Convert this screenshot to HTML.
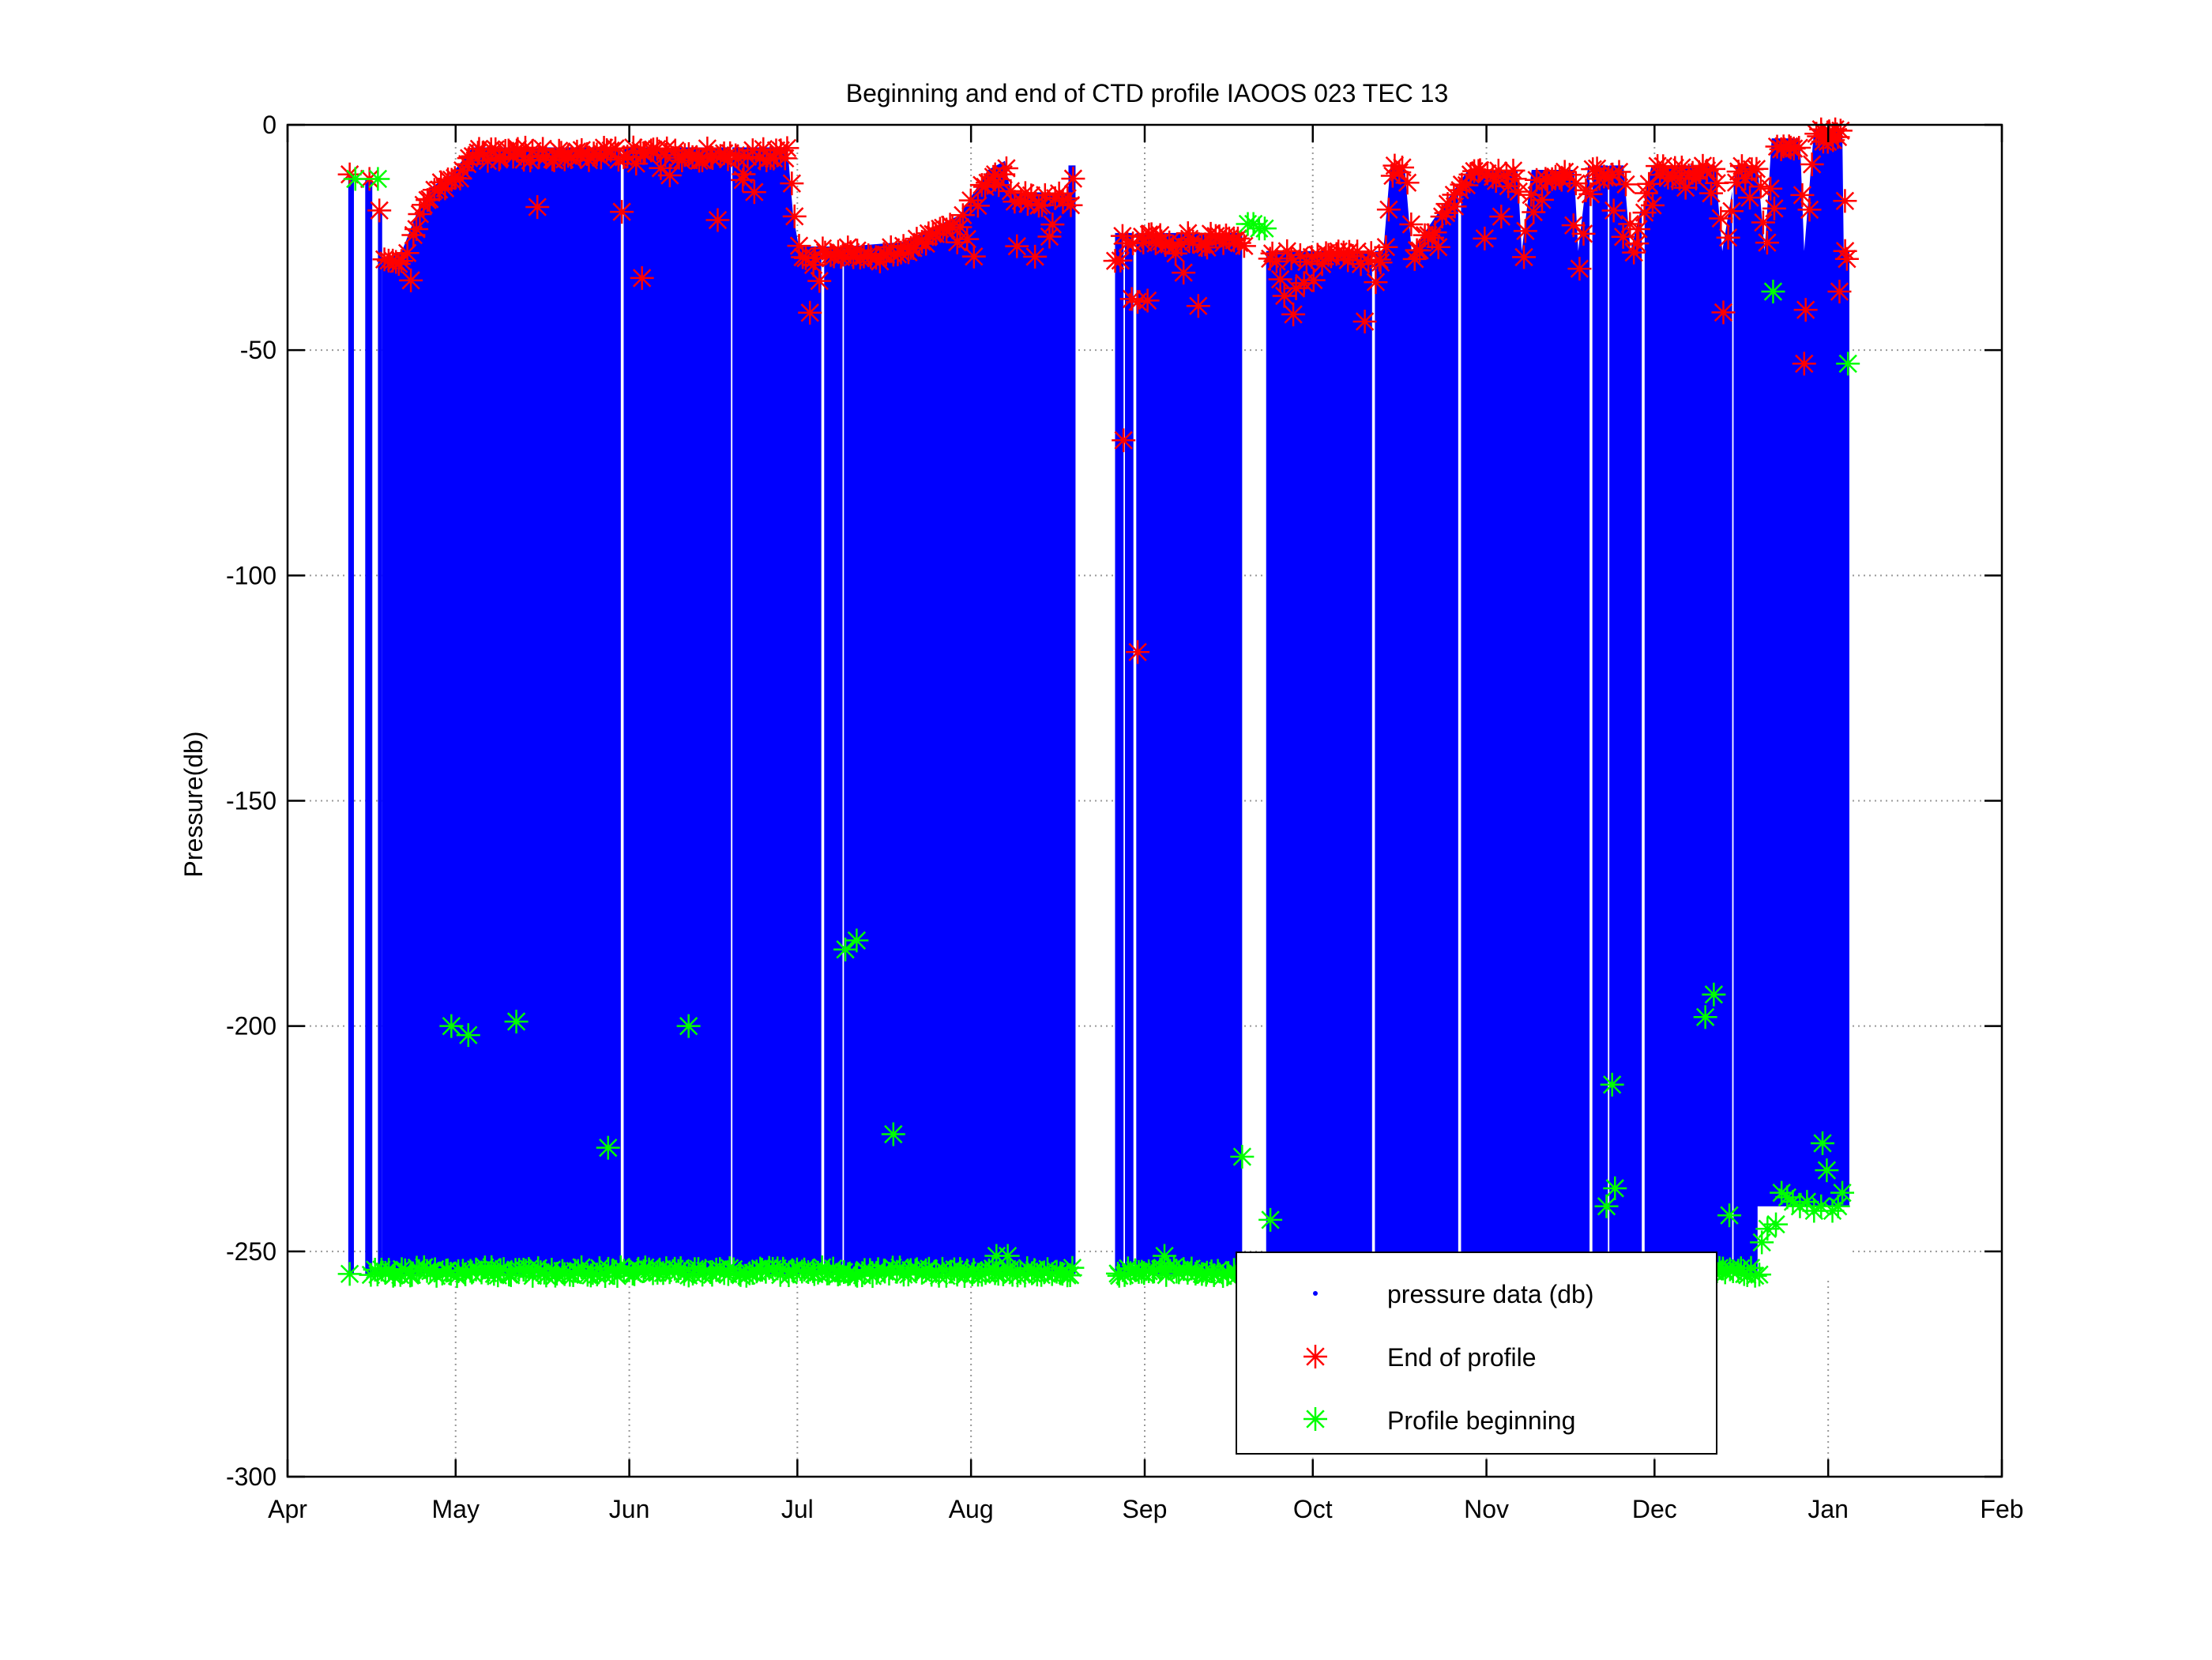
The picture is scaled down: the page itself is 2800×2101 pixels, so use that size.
<!DOCTYPE html>
<html><head><meta charset="utf-8"><style>
html,body{margin:0;padding:0;background:#fff;}
svg{display:block;font-family:"Liberation Sans",sans-serif;}
</style></head><body>
<svg id="s" width="2800" height="2101" viewBox="0 0 2800 2101" xmlns="http://www.w3.org/2000/svg">
<rect width="2800" height="2101" fill="#fff"/>
<g id="grid" stroke="#999" stroke-width="2" stroke-dasharray="2,5"></g>
<g id="blue"></g>
<g id="gaps" fill="#fff"></g>
<g id="red" stroke="#ff0000" stroke-width="2.5"></g>
<g id="green" stroke="#00ff00" stroke-width="2.5"></g>
<rect x="364" y="158" width="2170" height="1711" fill="none" stroke="#000" stroke-width="2.5"/>
<g id="ticks" stroke="#000" stroke-width="2.5"></g>
<g id="labels" font-size="32" fill="#000"></g>
<text x="1452" y="129" font-size="32" text-anchor="middle">Beginning and end of CTD profile IAOOS 023 TEC 13</text>
<text transform="translate(256,1018) rotate(-90)" font-size="32" text-anchor="middle">Pressure(db)</text>
<rect x="1565" y="1585" width="608" height="255" fill="#fff" stroke="#000" stroke-width="2"/>
<circle cx="1665" cy="1637" r="3" fill="#0000ff"/>
<g id="leg" stroke-width="2.5"></g>
<text x="1756" y="1649" font-size="32">pressure data (db)</text>
<text x="1756" y="1729" font-size="32">End of profile</text>
<text x="1756" y="1809" font-size="32">Profile beginning</text>
</svg>
<script>
var NS="http://www.w3.org/2000/svg";
function X(xd){return 364+(xd-204)*1.7875;}
function Y(p){return 158+(-p)*5.7033;}
function el(g,t,a){var e=document.createElementNS(NS,t);for(var k in a)e.setAttribute(k,a[k]);document.getElementById(g).appendChild(e);return e;}
var days=[0,30,61,91,122,153,183,214,244,275,306],mon=["Apr","May","Jun","Jul","Aug","Sep","Oct","Nov","Dec","Jan","Feb"];
days.forEach(function(d,i){var x=364+d*7.0915;
 if(i>0&&i<10)el("grid","line",{x1:x,y1:158,x2:x,y2:1869});
 el("ticks","line",{x1:x,y1:158,x2:x,y2:180});el("ticks","line",{x1:x,y1:1869,x2:x,y2:1847});
 var t=el("labels","text",{x:x,y:1921,"text-anchor":"middle"});t.textContent=mon[i];});
for(var i=0;i<=6;i++){var p=-50*i,y=Y(p);
 if(i>0&&i<6)el("grid","line",{x1:364,y1:y,x2:2534,y2:y});
 el("ticks","line",{x1:364,y1:y,x2:386,y2:y});el("ticks","line",{x1:2534,y1:y,x2:2512,y2:y});
 var t=el("labels","text",{x:350,y:y+11,"text-anchor":"end"});t.textContent=p;}
function poly(pts,bot){var s=pts.map(function(q){return X(q[0])+","+Y(q[1]);});
 s.push(X(pts[pts.length-1][0])+","+Y(bot));s.push(X(pts[0][0])+","+Y(bot));
 el("blue","polygon",{points:s.join(" "),fill:"#0000ff"});}
poly([[247,-11],[251,-11]],-255);poly([[259,-12],[264,-12]],-255);poly([[268,-19],[271,-19]],-255);
var b1=[[271,-30],[285,-28],[295,-20],[305,-14],[320,-11],[335,-5],[558,-5],[562,-20],[566,-27],[600,-27],[640,-26],[680,-20],[690,-15],[700,-10],[712,-8],[716,-15],[757,-15],[757,-9],[762,-9]];
poly(b1,-255);
poly([[790,-24],[880,-24]],-255);
var b3=[[897,-28],[980,-28],[985,-9],[995,-9],[1000,-28],[1040,-10],[1075,-10],[1078,-28],[1085,-10],[1115,-10],[1118,-28],[1125,-9],[1150,-9],[1155,-28],[1170,-9],[1215,-9],[1220,-28],[1230,-9],[1245,-9],[1250,-28],[1255,-3],[1275,-3],[1278,-28],[1285,-1],[1305,-1],[1306,-28],[1310,-28]];
poly(b3,-255);
el("gaps","rect",{x:X(1245),y:Y(-240),width:X(1312)-X(1245),height:Y(-256)-Y(-240)});
[[440,2],[518,1],[582,2],[597,1],[796,1],[803,2],[972,2],[1033,2],[1126,2],[1139,1],[1163,2],[1227,1]].forEach(function(g){
 el("gaps","rect",{x:X(g[0]),y:Y(-4),width:g[1]*1.8,height:Y(-256)-Y(-4)});});
function star(g,xd,p,sz){var x=X(xd),y=Y(p),r=sz||15,d=r*0.72;
 el(g,"line",{x1:x-r,y1:y,x2:x+r,y2:y});el(g,"line",{x1:x,y1:y-r,x2:x,y2:y+r});
 el(g,"line",{x1:x-d,y1:y-d,x2:x+d,y2:y+d});el(g,"line",{x1:x-d,y1:y+d,x2:x+d,y2:y-d});}
var seed=7;function rnd(){seed=(seed*16807)%2147483647;return seed/2147483647;}
function topAt(pts,x){for(var i=0;i<pts.length-1;i++){if(x>=pts[i][0]&&x<=pts[i+1][0]){var a=pts[i],b=pts[i+1];var t=b[0]==a[0]?0:(x-a[0])/(b[0]-a[0]);return a[1]+(b[1]-a[1])*t;}}return pts[pts.length-1][1];}
function reds(pts,x0,x1,step){for(var x=x0;x<=x1;x+=step){var p=topAt(pts,x)-rnd()*3;if(rnd()<0.15)p-=rnd()*15;star("red",x+rnd()*2,Math.min(p,-1));}}
star("red",248,-11);star("red",262,-12);star("red",269,-19);
reds(b1,272,760,2.5);reds([[790,-24],[880,-24]],790,880,2.5);reds(b3,898,1310,2.5);
[[796,-70],[806,-117],[813,-39],[455,-34],[1278,-53],[1303,-37],[1307,-28],[1296,-2],[1290,-1],[1300,-1]].forEach(function(q){star("red",q[0],q[1]);});
function greens(x0,x1,p){for(var x=x0;x<=x1;x+=2.5)star("green",x+rnd()*2,p-rnd()*2+0.5);}
star("green",248,-255);greens(262,760,-254);greens(790,880,-254);greens(897,1245,-254);
[[252,-12],[268,-12],[320,-200],[332,-202],[366,-199],[431,-227],[488,-200],[599,-183],[607,-181],[633,-224],[706,-251],[714,-251],[825,-251],[880,-229],[884,-22],[888,-22],[892,-23],[896,-23],[900,-243],[1138,-240],[1142,-213],[1144,-236],[1208,-198],[1214,-193],[1225,-242],[1256,-37],[1248,-248],[1252,-245],[1258,-244],[1262,-237],[1266,-238],[1270,-239],[1275,-240],[1280,-239],[1285,-241],[1290,-240],[1291,-226],[1294,-232],[1298,-241],[1302,-240],[1305,-237],[1309,-53]].forEach(function(q){star("green",q[0],q[1]);});
(function(){var g="leg";
 function ls(x,y,c){var r=15,d=10.8;[[x-r,y,x+r,y],[x,y-r,x,y+r],[x-d,y-d,x+d,y+d],[x-d,y+d,x+d,y-d]].forEach(function(a){el(g,"line",{x1:a[0],y1:a[1],x2:a[2],y2:a[3],stroke:c});});}
 ls(1665,1717,"#ff0000");ls(1665,1796,"#00ff00");})();
</script>
</body></html>
